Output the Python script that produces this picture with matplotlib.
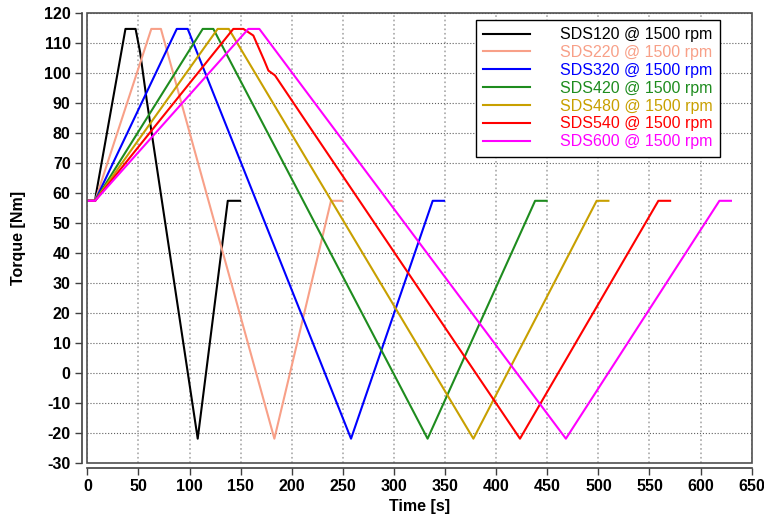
import matplotlib
matplotlib.use("Agg")
import matplotlib.pyplot as plt
from matplotlib.patches import Rectangle

plt.rcParams['font.family'] = ['Liberation Sans', 'DejaVu Sans']
plt.rcParams['axes.unicode_minus'] = False

# time [s] / torque [Nm] breakpoints
t_120 = [0, 7.6, 8.5, 37.3, 47.2, 51.6, 58.1, 108.0, 137.4, 149.3]
T_120 = [57.3, 57.3, 59.5, 114.6, 114.6, 106.9, 90.9, -22, 57.3, 57.3]

t_220 = [0, 7.6, 62.6, 72.0, 183.0, 238.4, 248.9]
T_220 = [57.3, 57.3, 114.6, 114.6, -22, 57.3, 57.3]

t_320 = [0, 7.6, 87.5, 98.2, 258.0, 337.9, 349.0]
T_320 = [57.3, 57.3, 114.6, 114.6, -22, 57.3, 57.3]

t_420 = [0, 7.6, 112.9, 123.3, 332.9, 438.1, 449.4]
T_420 = [57.3, 57.3, 114.6, 114.6, -22, 57.3, 57.3]

t_480 = [0, 7.6, 127.5, 138.4, 377.7, 498.3, 509.8]
T_480 = [57.3, 57.3, 114.6, 114.6, -22, 57.3, 57.3]

t_540 = [0, 7.6, 142.8, 152.7, 162.4, 173.2, 177.2, 183.6, 213.0, 423.3, 558.7, 570.2]
T_540 = [57.3, 57.3, 114.6, 114.6, 112.4, 104.0, 100.7, 99.1, 84.2, -22, 57.3, 57.3]

t_600 = [0, 7.6, 157.5, 168.3, 468.2, 618.4, 629.7]
T_600 = [57.3, 57.3, 114.6, 114.6, -22, 57.3, 57.3]

series = [
    ("SDS120 @ 1500 rpm", t_120, T_120, "#000000"),
    ("SDS220 @ 1500 rpm", t_220, T_220, "#F8A088"),
    ("SDS320 @ 1500 rpm", t_320, T_320, "#0000FF"),
    ("SDS420 @ 1500 rpm", t_420, T_420, "#1E8C1E"),
    ("SDS480 @ 1500 rpm", t_480, T_480, "#C8A000"),
    ("SDS540 @ 1500 rpm", t_540, T_540, "#FF0000"),
    ("SDS600 @ 1500 rpm", t_600, T_600, "#FF00FF"),
]

fig = plt.figure(figsize=(7.64, 5.15), dpi=100)
ax = fig.add_axes([0.1143, 0.1016, 0.8696, 0.8737])

for name, t, T, c in series:
    ax.plot(t, T, color=c, lw=1.5, label=name)

ax.set_xlim(0, 650)
ax.set_ylim(-30, 120)
ax.set_xticks(range(0, 651, 50))
ax.set_yticks(range(-30, 121, 10))

ax.xaxis.grid(True, color="#a8a8a8", ls=":", lw=1.2)
ax.yaxis.grid(True, color="#606060", ls=":", lw=0.8)
ax.set_axisbelow(True)

for s in ["left", "bottom"]:
    ax.spines[s].set_position(("outward", 4))
    ax.spines[s].set_color("#404040")
    ax.spines[s].set_linewidth(1.2)
ax.spines["top"].set_visible(False)
ax.spines["right"].set_visible(False)
ax.add_patch(Rectangle((0, 0), 1, 1, transform=ax.transAxes, fill=False,
                       edgecolor="#505050", lw=1.2, clip_on=False, zorder=5))

ax.tick_params(direction="out", length=5, width=1, color="#404040",
               labelsize=11.5, pad=3)
for lbl in ax.get_xticklabels() + ax.get_yticklabels():
    lbl.set_fontweight("bold")

ax.set_xlabel("Time [s]", fontsize=11.5, fontweight="bold", labelpad=3)
ax.set_ylabel("Torque [Nm]", fontsize=11.5, fontweight="bold", labelpad=13)

leg = ax.legend(loc="upper right", bbox_to_anchor=(0.952, 0.984),
                borderaxespad=0, fontsize=11.5, handlelength=2.9,
                handletextpad=1.9, labelspacing=0.18, borderpad=0.45,
                fancybox=False, framealpha=1)
leg.get_frame().set_edgecolor("#000000")
leg.get_frame().set_linewidth(1.0)
for txt, (_, _, _, c) in zip(leg.get_texts(), series):
    txt.set_color(c)

fig.savefig("out.png", dpi=100)
